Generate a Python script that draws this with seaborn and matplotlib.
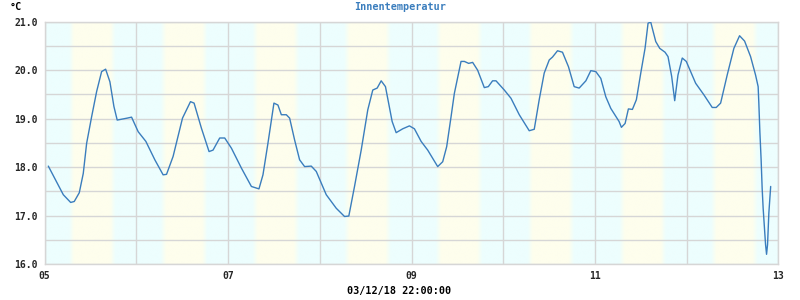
import numpy as np
import pandas as pd
import matplotlib
matplotlib.use("Agg")
import matplotlib.pyplot as plt
import seaborn as sns
from matplotlib.colors import to_rgb

# ---------------- data ----------------
hours = [0.94, 4.86, 6.79, 7.73, 9.04, 10.09, 10.97, 12.28, 13.59, 14.89, 15.94, 17.06,
         18.11, 18.97, 21.58, 22.73, 24.46, 26.47, 28.82, 30.99, 31.88, 33.60, 36.06,
         38.15, 39.09, 41.02, 43.01, 44.05, 45.80, 47.11, 48.86, 51.47, 54.09, 56.07,
         57.12, 58.42, 59.99, 61.04, 61.93, 63.23, 64.10, 65.40, 66.71, 68.02, 69.76,
         71.07, 73.68, 76.30, 78.47, 79.59, 81.08, 82.83, 84.55, 85.86, 87.01, 88.06,
         89.18, 90.93, 91.98, 93.70, 95.45, 96.76, 98.51, 100.24, 102.85, 104.16,
         105.20, 106.35, 107.21, 108.96, 109.83, 110.95, 112.00, 113.30, 115.05,
         116.10, 117.22, 118.11, 120.28, 122.03, 124.20, 126.81, 128.12, 129.42,
         130.73, 132.04, 132.90, 134.21, 135.51, 137.08, 138.57, 139.88, 141.63,
         142.93, 144.24, 145.54, 146.85, 148.16, 150.33, 150.93, 151.90, 152.76,
         153.81, 154.85, 156.00, 157.12, 157.91, 158.61, 159.92, 160.96, 162.35,
         163.13, 164.09, 164.88, 165.74, 166.86, 167.91, 170.36, 172.53, 174.70,
         175.75, 176.90, 178.62, 180.37, 181.86, 183.17, 184.74, 186.04, 186.72,
         186.90, 187.17, 187.50, 187.77, 188.03, 188.29, 188.66, 188.92, 189.18,
         189.52, 190.00]
temps = [18.02, 17.43, 17.27, 17.29, 17.47, 17.87, 18.49, 19.04, 19.56, 19.97, 20.02, 19.76,
         19.25, 18.97, 19.01, 19.03, 18.73, 18.53, 18.15, 17.84, 17.85, 18.22, 19.01,
         19.35, 19.32, 18.80, 18.32, 18.35, 18.60, 18.60, 18.39, 17.98, 17.60, 17.55,
         17.84, 18.49, 19.32, 19.28, 19.08, 19.08, 19.01, 18.56, 18.15, 18.01, 18.02,
         17.91, 17.43, 17.15, 16.98, 16.99, 17.60, 18.35, 19.18, 19.59, 19.63, 19.78,
         19.66, 18.94, 18.71, 18.79, 18.85, 18.79, 18.53, 18.35, 18.01, 18.11,
         18.42, 19.04, 19.52, 20.18, 20.18, 20.14, 20.16, 20.00, 19.64,
         19.66, 19.78, 19.78, 19.59, 19.42, 19.08, 18.75, 18.78, 19.39,
         19.94, 20.21, 20.27, 20.40, 20.37, 20.07, 19.66, 19.63, 19.78,
         19.99, 19.97, 19.83, 19.45, 19.21, 18.94, 18.82, 18.90, 19.20,
         19.19, 19.39, 19.94, 20.45, 20.97, 20.99, 20.59, 20.45, 20.37,
         20.28, 19.87, 19.37, 19.90, 20.25, 20.18, 19.73, 19.49, 19.23,
         19.23, 19.32, 19.90, 20.45, 20.71, 20.60, 20.28, 19.90, 19.66,
         19.32, 18.73, 18.15, 17.56, 17.15, 16.84, 16.40, 16.20, 16.40,
         17.05, 17.60]
start_day = 5                      # 03/05 00:00
day_ticks = [5, 6, 7, 8, 9, 10, 11, 12, 13]
day_labels = ["05", "", "07", "", "09", "", "11", "", "13"]
y_ticks = [16.0, 16.5, 17.0, 17.5, 18.0, 18.5, 19.0, 19.5, 20.0, 20.5, 21.0]
y_labels = ["16.0", "", "17.0", "", "18.0", "", "19.0", "", "20.0", "", "21.0"]
sunrise_frac = 0.29                # fraction of day
sunset_frac = 0.74
title = "Innentemperatur"
unit = "°C"
footer = "03/12/18 22:00:00"

df = pd.DataFrame({"day": [start_day + h / 24 for h in hours], "temp": temps})

# ---------------- style ----------------
sns.set_style("white")
plt.rcParams["font.family"] = ["DejaVu Sans Mono"]

fig = plt.figure(figsize=(8, 3), dpi=100)
ax = fig.add_axes([0.0559, 0.12, 0.9170, 0.8077])

# day/night background
night = np.array(to_rgb("#edfefe"))
dayc = np.array(to_rgb("#fefeed"))
xs = np.linspace(day_ticks[0], day_ticks[-1], 4000)
frac = xs - np.floor(xs)
blend = 0.06
w = np.clip((frac - sunrise_frac) / blend + 0.5, 0, 1) * np.clip((sunset_frac - frac) / blend + 0.5, 0, 1)
img = night[None, :] * (1 - w[:, None]) + dayc[None, :] * w[:, None]
ax.imshow(img[None, :, :], extent=[day_ticks[0], day_ticks[-1], y_ticks[0], y_ticks[-1]],
          aspect="auto", interpolation="bilinear", zorder=0)

sns.lineplot(data=df, x="day", y="temp", ax=ax, color="#3a7dbd", linewidth=1.0, zorder=3)

ax.set_xlim(day_ticks[0], day_ticks[-1])
ax.set_ylim(y_ticks[0], y_ticks[-1])
ax.set_xticks(day_ticks)
ax.set_xticklabels(day_labels)
ax.set_yticks(y_ticks)
ax.set_yticklabels(y_labels)
ax.grid(True, color="#d6d6d6", linewidth=1.0, zorder=1)
for gl in ax.get_xgridlines() + ax.get_ygridlines():
    gl.set_zorder(1)
for s in ax.spines.values():
    s.set_color("#d6d6d6")
    s.set_linewidth(1.0)
ax.tick_params(axis="both", length=0, labelsize=7)
ax.tick_params(axis="y", pad=5)
ax.tick_params(axis="x", pad=5)
for lab in ax.get_xticklabels() + ax.get_yticklabels():
    lab.set_fontweight("bold")
ax.set_xlabel("")
ax.set_ylabel("")

fig.text(0.5, 0.978, title, ha="center", va="center", fontsize=7.3, fontweight="bold",
         color="#3a7dbd")
fig.text(0.0125, 0.978, unit, ha="left", va="center", fontsize=7.3, fontweight="bold",
         color="black")
fig.text(0.4985, 0.03, footer, ha="center", va="center", fontsize=7.3, fontweight="bold",
         color="black")

fig.savefig("out.png", dpi=100)
